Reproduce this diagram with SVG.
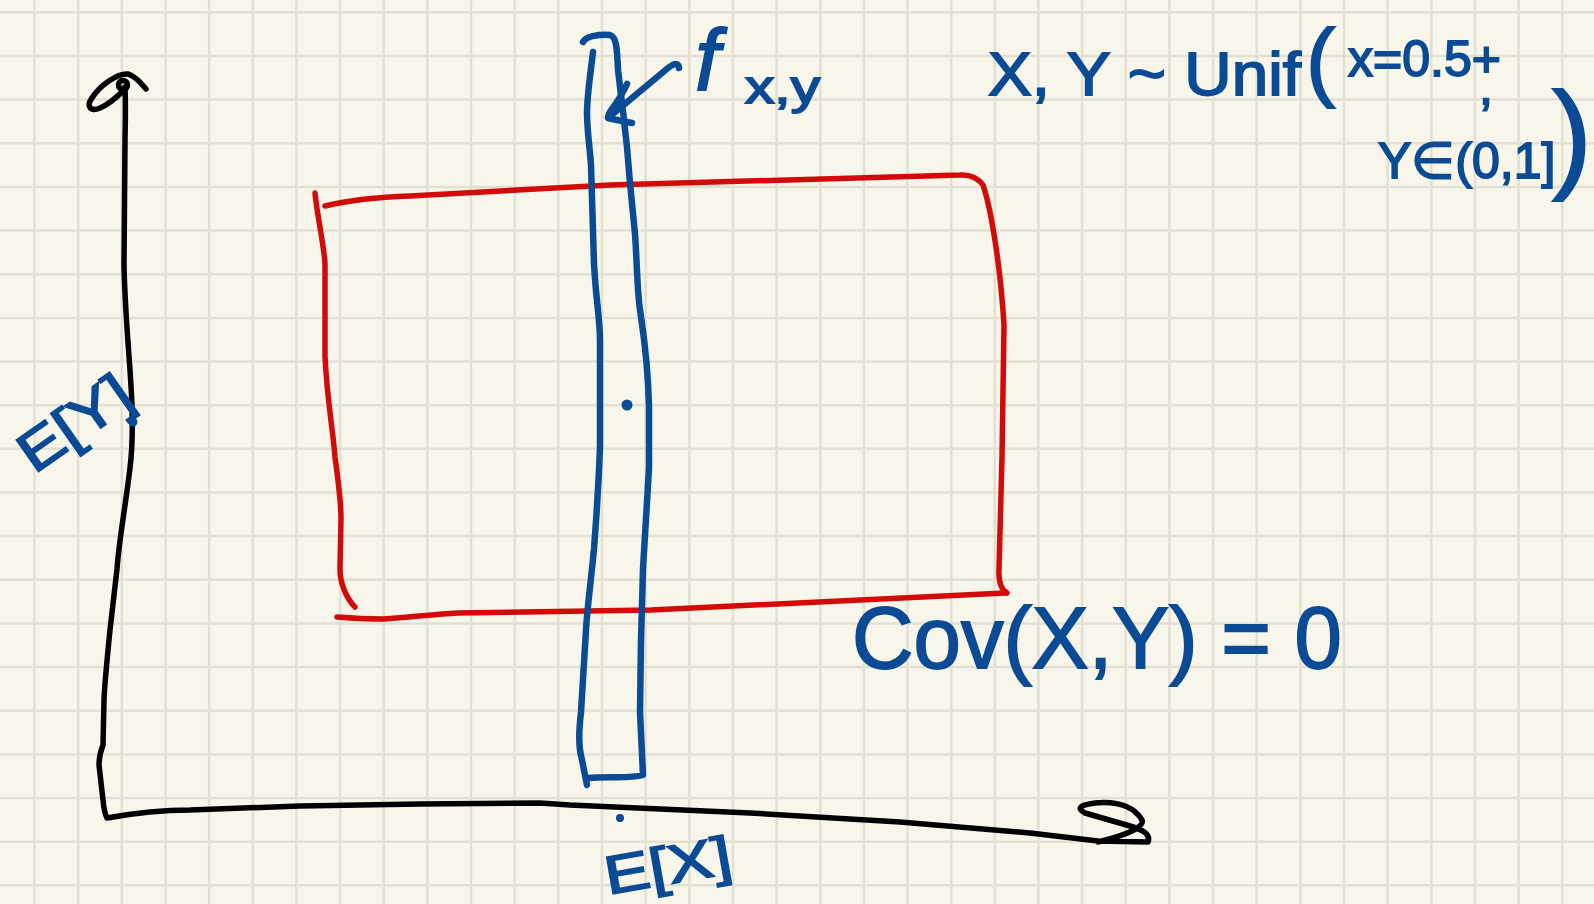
<svg xmlns="http://www.w3.org/2000/svg" width="1594" height="904" viewBox="0 0 1594 904">
<style>
.grid{fill:none;stroke:#E2E0D3;stroke-width:2.5}
.bk{fill:none;stroke:#000;stroke-width:5.5;stroke-linecap:round;stroke-linejoin:round}
.rd{fill:none;stroke:#D30A0A;stroke-width:5.5;stroke-linecap:round;stroke-linejoin:round}
.bl{fill:none;stroke:#0B4A94;stroke-width:6.5;stroke-linecap:round;stroke-linejoin:round}
.t{fill:#0B4A94;stroke:#0B4A94;stroke-width:1.8;font-family:"Liberation Sans",Arial,sans-serif}
</style>
<rect width="1594" height="904" fill="#F8F6EA"/>
<path id="grid" class="grid" d="M34.5 0V904M78.2 0V904M121.8 0V904M165.5 0V904M209.1 0V904M252.8 0V904M296.4 0V904M340.1 0V904M383.7 0V904M427.4 0V904M471 0V904M514.7 0V904M558.3 0V904M602 0V904M645.6 0V904M689.3 0V904M732.9 0V904M776.6 0V904M820.2 0V904M863.9 0V904M907.5 0V904M951.2 0V904M994.8 0V904M1038.5 0V904M1082.1 0V904M1125.8 0V904M1169.4 0V904M1213.1 0V904M1256.7 0V904M1300.4 0V904M1344 0V904M1387.7 0V904M1431.3 0V904M1475 0V904M1518.6 0V904M1562.3 0V904M0 12.3H1594M0 56H1594M0 99.6H1594M0 143.3H1594M0 186.9H1594M0 230.6H1594M0 274.2H1594M0 317.9H1594M0 361.5H1594M0 405.2H1594M0 448.8H1594M0 492.5H1594M0 536.1H1594M0 579.8H1594M0 623.4H1594M0 667.1H1594M0 710.7H1594M0 754.4H1594M0 798H1594M0 841.7H1594M0 885.3H1594"/>
<g id="connectors">
<path id="axes" class="bk" d="M125 87C126 110 125 130 125 142L124 264C125 320 131 370 132 407C133 440 131 460 130 468C125 510 119 540 117 569L110 630C107 660 104 690 104 701L103 745Q99 755 99 765L103 800Q104 812 107 818C140 812 170 810 190 810L300 806L420 804L540 803L570 805L750 813L900 822L1030 833L1098 841L1148 842Q1152 832 1130 826L1085 813Q1072 806 1095 803Q1130 800 1142 820Q1146 830 1098 842"/>
<path id="y-arrowhead" class="bk" d="M146 89C140 82 135 76 128 74C118 73 100 85 92 98C86 106 90 112 100 108C110 104 118 96 124 90"/>
<circle class="bk" cx="123" cy="85" r="4.5"/>
<circle cx="133" cy="422" r="4.5" fill="#0B4A94"/>
<circle cx="620" cy="818" r="4" fill="#0B4A94"/>
</g>
<g id="red-square">
<path class="rd" d="M325 206C350 200 380 197 410 196L610 185L960 175Q975 174 983 185C990 205 1000 260 1004 325L1002 457L999 569Q998 588 1007 593"/>
<path class="rd" d="M315 193C317 215 324 245 325 264L325 356C327 400 333 430 335 457C338 480 341 500 341 518L340 569C340 583 346 598 355 607"/>
<path class="rd" d="M337 617C350 618 370 619 383 619C420 616 440 614 457 613L651 610L1005 593"/>
</g>
<g id="strip">
<path class="bl" d="M593 52C591 70 587 95 587 113C587 130 590 150 591 165L594 264C596 300 600 320 600 340L600 447C598 500 596 520 594 549C590 590 587 610 586 630L581 712C579 730 578 745 582 760L587 785"/>
<path class="bl" d="M583 42C586 36 600 34 610 35C616 37 617 45 618 70L622 103C624 120 627 140 630 183L635 234C637 260 637 290 640 310C643 330 648 360 649 407L649 468L643 569L641 640L640 712L643 775C630 779 610 776 588 778"/>
<circle cx="627" cy="405" r="5.5" fill="#0B4A94"/>
<path class="bl" d="M679 68Q678 60 668 68L608 118"/>
<path class="bl" d="M627 84C622 95 615 105 610 112Q606 118 612 119L632 123"/>
</g>
<g id="label-f">
<text class="t" x="695" y="90" font-size="88" font-style="italic">f</text>
<text class="t" x="745" y="103" font-size="46" textLength="75" lengthAdjust="spacingAndGlyphs">x,y</text>
</g>
<g id="label-dist">
<text class="t" x="988" y="95" font-size="62" textLength="313" lengthAdjust="spacingAndGlyphs">X, Y ~ Unif</text>
<text class="t" x="1306" y="90" font-size="88">(</text>
<text class="t" x="1348" y="76" font-size="50">x=0.5+<tspan dx="-22" dy="28">,</tspan></text>
<text class="t" x="1378" y="178" font-size="50">Y∈(0,1]</text>
<text class="t" x="1552" y="176" font-size="120">)</text>
</g>
<g id="label-cov">
<text class="t" x="852" y="668" font-size="88" textLength="490" lengthAdjust="spacingAndGlyphs">Cov(X,Y) = 0</text>
</g>
<g id="label-ey">
<text class="t" transform="translate(75,424) rotate(-35)" x="0" y="18" font-size="56" text-anchor="middle" textLength="125" lengthAdjust="spacingAndGlyphs">E[Y]</text>
</g>
<g id="label-ex">
<text class="t" transform="translate(668,866) rotate(-10)" x="0" y="18" font-size="54" text-anchor="middle" textLength="128" lengthAdjust="spacingAndGlyphs">E[X]</text>
</g>
</svg>
